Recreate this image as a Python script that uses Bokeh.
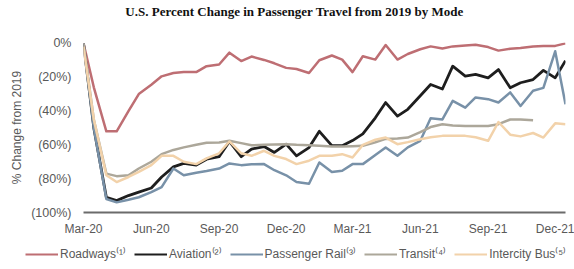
import pandas as pd
from bokeh.plotting import figure
from bokeh.models import (Range1d, FixedTicker, DatetimeTickFormatter, Legend,
                          LegendItem, CustomJSTickFormatter, Label)
from bokeh.embed import file_html
from bokeh.resources import INLINE

# ---- data (semi-monthly observations, % change vs 2019) ----
dates = pd.date_range("2020-03-01", periods=44, freq="SMS")

roadways = [0, -26, -52, -52, -40, -30, -24.5, -19.5, -17.5, -17, -17, -13.5,
            -12.5, -5.5, -10.5, -7.8, -9.8, -11.8, -14.5, -15.2, -17.5, -10,
            -7.2, -9.6, -17, -7.6, -9.6, -1, -9.6, -6.3, -3.5, -1.8,
            -3, -1.8, -1.3, -0.8, -2.2, -4.3, -3.2, -2.8, -1.8, -1.6, -1.5, 0]
aviation = [0, -50, -91, -93, -90, -88, -85.5, -79, -73, -71, -72, -68.5,
            -67, -58, -67, -62.5, -61, -64.5, -59.6, -66.5, -61.6, -52,
            -60.5, -60.5, -57.5, -53.5, -44, -35, -43, -39, -31, -24.3,
            -27, -13.5, -19.4, -18.4, -20.4, -15.5, -26.3, -23.3, -21.4, -16, -20.4, -10.2]
rail = [0, -50, -92, -94, -92.5, -91, -88, -85, -74, -78, -76.5, -75.5,
        -74, -71, -72, -71.5, -71.4, -75, -78, -82, -83, -70.4,
        -76, -75.3, -71.4, -71.4, -66, -61.6, -66.5, -61.5, -57.6, -44.3,
        -45, -34, -38, -32, -33, -35, -29, -37, -28, -26.3, -4.7, -36]
transit = [0, -45, -77, -78.5, -78, -74, -70, -65.5, -63, -61.5, -60, -58.8,
           -58.6, -57.6, -59, -60.3, -60, -59.8, -59.6, -60, -60.3, -60.6,
           -61, -61, -60.8, -60.6, -58.5, -56.5, -56.2, -55.7, -52.5, -49.5,
           -47.8, -48.5, -48.8, -48.8, -48.8, -47.8, -45, -45, -45.5,
           float("nan"), float("nan"), float("nan")]
bus = [-2, -45, -78, -82, -79, -76, -72, -66.5, -66.5, -70, -71.4, -68,
       -65, -58, -65, -66.5, -63.5, -66.5, -68.4, -71.4, -69.4, -66.5,
       -66.5, -65.5, -67.5, -60, -57, -55.7, -59.6, -58.4, -56.7, -55.5,
       -54.7, -54.7, -54.7, -55.5, -57.6, -46.5, -54, -55, -53, -55.7, -47.3, -47.8]

series_names = ["Roadways\u207d\u00b9\u207e", "Aviation\u207d\u00b2\u207e",
                "Passenger Rail\u207d\u00b3\u207e", "Transit\u207d\u2074\u207e",
                "Intercity Bus\u207d\u2075\u207e"]
series_values = [roadways, aviation, rail, transit, bus]
series_colors = ["#BE6E73", "#1E1E1E", "#7891A8", "#ACA79A", "#F2D2AA"]
series_widths = [2.5, 2.8, 2.5, 2.5, 2.5]

tick_dates = pd.to_datetime(["2020-03-01", "2020-06-01", "2020-09-01", "2020-12-01",
                             "2021-03-01", "2021-06-01", "2021-09-01", "2021-12-01"])
y_ticks = [0, -20, -40, -60, -80, -100]

title_text = "U.S. Percent Change in Passenger Travel from 2019 by Mode"
y_label = "% Change from 2019"


def blank_fig(h):
    f = figure(width=574, height=h, output_backend="svg", toolbar_location=None,
               x_range=Range1d(0, 574), y_range=Range1d(0, h),
               x_axis_location=None, y_axis_location=None, min_border=0)
    f.outline_line_color = None
    f.xgrid.grid_line_color = None
    f.ygrid.grid_line_color = None
    return f


# ---- title strip ----
p_top = blank_fig(22)
p_top.add_layout(Label(x=294, y=11, text=title_text, text_align="center",
                       text_baseline="middle", text_font="Liberation Serif",
                       text_font_size="13px", text_font_style="bold",
                       text_color="#111111"))

# ---- main chart ----
p = figure(frame_width=482, frame_height=170, output_backend="svg", toolbar_location=None,
           x_axis_type="datetime",
           x_range=Range1d(dates[0], dates[-1]),
           y_range=Range1d(-100, 0.5),
           min_border_left=83, min_border_right=9, min_border_top=20,
           min_border_bottom=30)
p.outline_line_color = None
p.xgrid.grid_line_color = None
p.ygrid.grid_line_color = None

for vals, col, lw in zip(series_values, series_colors, series_widths):
    p.line(dates, vals, line_color=col, line_width=lw, line_join="round")

xa = p.xaxis[0]
xa.ticker = FixedTicker(ticks=[d.value / 1e6 for d in tick_dates])
xa.formatter = DatetimeTickFormatter(days="%b-%y", months="%b-%y", years="%b-%y")
xa.axis_line_color = "#6b6b6b"
xa.axis_line_width = 2
xa.major_tick_line_color = None
xa.minor_tick_line_color = None
xa.major_label_text_font = "Liberation Sans"
xa.major_label_text_font_size = "12px"
xa.major_label_text_color = "#595959"
xa.major_label_standoff = 3

ya = p.yaxis[0]
ya.ticker = FixedTicker(ticks=y_ticks)
ya.formatter = CustomJSTickFormatter(code="""
    if (tick == 0) { return '0%'; }
    return '(' + Math.abs(tick).toFixed(0) + '%)';
""")
ya.axis_line_color = None
ya.major_tick_line_color = None
ya.minor_tick_line_color = None
ya.major_label_text_font = "Liberation Sans"
ya.major_label_text_font_size = "12.5px"
ya.major_label_text_color = "#595959"
ya.major_label_standoff = 6
ya.axis_label = y_label
ya.axis_label_text_font = "Liberation Sans"
ya.axis_label_text_font_size = "12px"
ya.axis_label_text_font_style = "normal"
ya.axis_label_text_color = "#595959"
ya.axis_label_standoff = 4

# ---- legend strip (series lines lie outside this strip's ranges; only the key shows) ----
p_leg = blank_fig(27)
leg_renderers = [p_leg.line(dates, vals, line_color=c, line_width=2.2)
                 for vals, c in zip(series_values, series_colors)]
legend = Legend(items=[LegendItem(label=n, renderers=[r]) for n, r in zip(series_names, leg_renderers)],
                orientation="horizontal", location=(25, 7),
                glyph_width=33, glyph_height=12, label_height=12, label_standoff=2, spacing=8,
                padding=0, margin=0, border_line_color=None, background_fill_alpha=0,
                label_text_font="Liberation Sans", label_text_font_size="12px",
                label_text_color="#595959")
p_leg.add_layout(legend, "center")

open("out.html", "w").write(file_html([p_top, p, p_leg], INLINE))
